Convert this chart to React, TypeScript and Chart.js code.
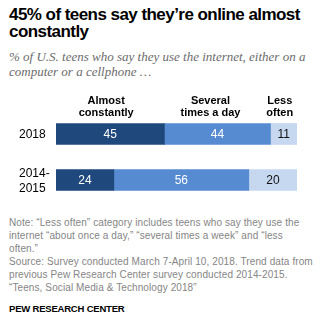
import React, { useEffect, useRef } from 'react';
import { Chart, registerables } from 'chart.js';

Chart.register(...registerables);

// ---- Data ----
const categories = ['2018', '2014-2015'];
const categoryLines = [['2018'], ['2014-', '2015']];
const seriesNames = ['Almost constantly', 'Several times a day', 'Less often'];
const headerLines = [['Almost', 'constantly'], ['Several', 'times a day'], ['Less', 'often']];
const almostConstantly = [45, 24];
const severalTimesADay = [44, 56];
const lessOften = [11, 20];

// ---- Styles ----
const barColors = ['#1f487c', '#568bd2', '#c6d8f0'];
const valueColors = ['#ffffff', '#ffffff', '#111111'];
const headerOffsets = [-4, -7, -4];
const SANS = '"Liberation Sans", Arial, sans-serif';

const labelsPlugin = {
  id: 'pewLabels',
  afterDatasetsDraw(chart: any) {
    const ctx = chart.ctx;
    ctx.save();
    // values
    chart.data.datasets.forEach((ds: any, i: number) => {
      const meta = chart.getDatasetMeta(i);
      meta.data.forEach((el: any, j: number) => {
        const cx = (el.x + el.base) / 2;
        ctx.font = `12px ${SANS}`;
        ctx.fillStyle = valueColors[i];
        ctx.textAlign = 'center';
        ctx.textBaseline = 'middle';
        ctx.fillText(String(ds.data[j]), cx, el.y + 0.5);
      });
      // column headers above the first bar
      const first = meta.data[0];
      const hcx = (first.x + first.base) / 2 + headerOffsets[i];
      const barTop = first.y - first.height / 2;
      const lines = headerLines[i];
      ctx.font = `bold 11px ${SANS}`;
      ctx.fillStyle = '#000000';
      ctx.textAlign = 'center';
      ctx.textBaseline = 'alphabetic';
      lines.forEach((ln, k) => {
        const baseline = barTop - 7.5 - (lines.length - 1 - k) * 11.7;
        ctx.fillText(ln, hcx, baseline);
      });
    });
    // category labels
    const meta0 = chart.getDatasetMeta(0);
    ctx.font = `12px ${SANS}`;
    ctx.fillStyle = '#000000';
    ctx.textAlign = 'left';
    ctx.textBaseline = 'middle';
    categoryLines.forEach((lines, j) => {
      const y = meta0.data[j].y;
      const lh = 15;
      lines.forEach((ln, k) => {
        ctx.fillText(ln, 19, y + (k - (lines.length - 1) / 2) * lh + 1);
      });
    });
    ctx.restore();
  },
};

function BarChart() {
  const ref = useRef<HTMLCanvasElement>(null);
  useEffect(() => {
    if (!ref.current) return;
    const chart = new Chart(ref.current, {
      type: 'bar',
      data: {
        labels: categories,
        datasets: [almostConstantly, severalTimesADay, lessOften].map((d, i) => ({
          label: seriesNames[i],
          data: d,
          backgroundColor: barColors[i],
          borderWidth: 0,
          barThickness: 21,
        })),
      },
      options: {
        indexAxis: 'y',
        animation: false,
        responsive: false,
        maintainAspectRatio: false,
        events: [],
        layout: { padding: { left: 56, right: 25, top: 23, bottom: 7 } },
        plugins: { legend: { display: false }, tooltip: { enabled: false }, title: { display: false } },
        scales: {
          x: { stacked: true, min: 0, max: 100, display: false },
          y: { stacked: true, display: false },
        },
      },
      plugins: [labelsPlugin],
    });
    return () => chart.destroy();
  }, []);
  return (
    <canvas
      ref={ref}
      width={322}
      height={122}
      style={{ position: 'absolute', left: 0, top: 88, width: 322, height: 122 }}
    />
  );
}

export default function App() {
  return (
    <div
      style={{
        position: 'absolute',
        left: 0,
        top: 0,
        width: 322,
        height: 324,
        background: '#ffffff',
        fontFamily: SANS,
        overflow: 'hidden',
      }}
    >
      <div
        style={{
          position: 'absolute',
          left: 9,
          top: 6,
          fontWeight: 'bold',
          fontSize: 17,
          lineHeight: '17px',
          letterSpacing: '-0.55px',
          color: '#000',
          whiteSpace: 'nowrap',
        }}
      >
        45% of teens say they’re online almost
        <br />
        constantly
      </div>
      <div
        style={{
          position: 'absolute',
          left: 9,
          top: 48.5,
          fontFamily: '"Liberation Serif", "Times New Roman", serif',
          fontStyle: 'italic',
          fontSize: 13,
          lineHeight: '15.5px',
          color: '#6b6b6b',
          whiteSpace: 'nowrap',
        }}
      >
        % of U.S. teens who say they use the internet, either on a
        <br />
        computer or a cellphone …
      </div>
      <BarChart />
      <div
        style={{
          position: 'absolute',
          left: 9,
          top: 216,
          fontSize: 10,
          lineHeight: '13px',
          letterSpacing: '0.1px',
          color: '#858585',
          whiteSpace: 'nowrap',
        }}
      >
        Note: “Less often” category includes teens who say they use the
        <br />
        internet “about once a day,” “several times a week” and “less
        <br />
        often.”
        <br />
        Source: Survey conducted March 7-April 10, 2018. Trend data from
        <br />
        previous Pew Research Center survey conducted 2014-2015.
        <br />
        “Teens, Social Media &amp; Technology 2018”
      </div>
      <div
        style={{
          position: 'absolute',
          left: 9,
          top: 303,
          fontSize: 9.5,
          lineHeight: '11px',
          fontWeight: 'bold',
          letterSpacing: '-0.2px',
          color: '#000',
          whiteSpace: 'nowrap',
        }}
      >
        PEW RESEARCH CENTER
      </div>
    </div>
  );
}
